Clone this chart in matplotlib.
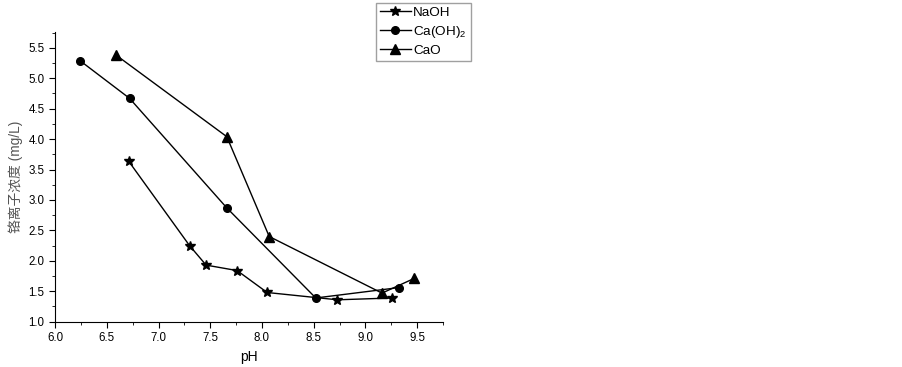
import matplotlib
matplotlib.use("Agg")
import matplotlib.pyplot as plt
from matplotlib.ticker import MultipleLocator

plt.rcParams['font.family'] = ['Liberation Sans', 'Noto Sans CJK SC', 'DejaVu Sans']
plt.rcParams['mathtext.fontset'] = 'custom'
plt.rcParams['mathtext.rm'] = 'Liberation Sans'

# NaOH
naoh_ph = [6.71, 7.30, 7.46, 7.76, 8.05, 8.73, 9.26]
naoh_cr = [3.64, 2.25, 1.93, 1.84, 1.48, 1.36, 1.39]
# Ca(OH)2
caoh_ph = [6.24, 6.72, 7.66, 8.52, 9.32]
caoh_cr = [5.29, 4.67, 2.87, 1.39, 1.56]
# CaO
cao_ph = [6.59, 7.66, 8.07, 9.16, 9.47]
cao_cr = [5.38, 4.04, 2.40, 1.47, 1.71]

fig = plt.figure(figsize=(9.03, 3.67), dpi=100)
ax = fig.add_axes([0.061, 0.1234, 0.4296, 0.7894])

ax.plot(naoh_ph, naoh_cr, color='black', lw=1, marker='*', ms=7, label='NaOH')
ax.plot(caoh_ph, caoh_cr, color='black', lw=1, marker='o', ms=5.5, label='Ca(OH)$_\\mathrm{2}$')
ax.plot(cao_ph, cao_cr, color='black', lw=1, marker='^', ms=6.5, label='CaO')

ax.set_xlim(6.0, 9.75)
ax.set_ylim(1.0, 5.76)
ax.xaxis.set_major_locator(MultipleLocator(0.5))
ax.xaxis.set_minor_locator(MultipleLocator(0.25))
ax.yaxis.set_major_locator(MultipleLocator(0.5))
ax.yaxis.set_minor_locator(MultipleLocator(0.25))
ax.spines['top'].set_visible(False)
ax.spines['right'].set_visible(False)
ax.tick_params(which='major', direction='out', length=4, labelsize=8.3)
ax.tick_params(which='minor', direction='out', length=2.5)
ax.xaxis.set_major_formatter(plt.FormatStrFormatter('%.1f'))
ax.yaxis.set_major_formatter(plt.FormatStrFormatter('%.1f'))

ax.set_xlabel('pH', fontsize=10)
ax.set_ylabel('铬离子浓度 (mg/L)', fontsize=9.9, color='#555555')

fig.legend(loc='upper left', bbox_to_anchor=(0.416, 0.993), borderaxespad=0,
           fontsize=9.7, handlelength=2.3, frameon=True, fancybox=False,
           edgecolor='#888888', borderpad=0.3, labelspacing=0.35,
           handletextpad=0.2)

fig.savefig('out.png', dpi=100)
